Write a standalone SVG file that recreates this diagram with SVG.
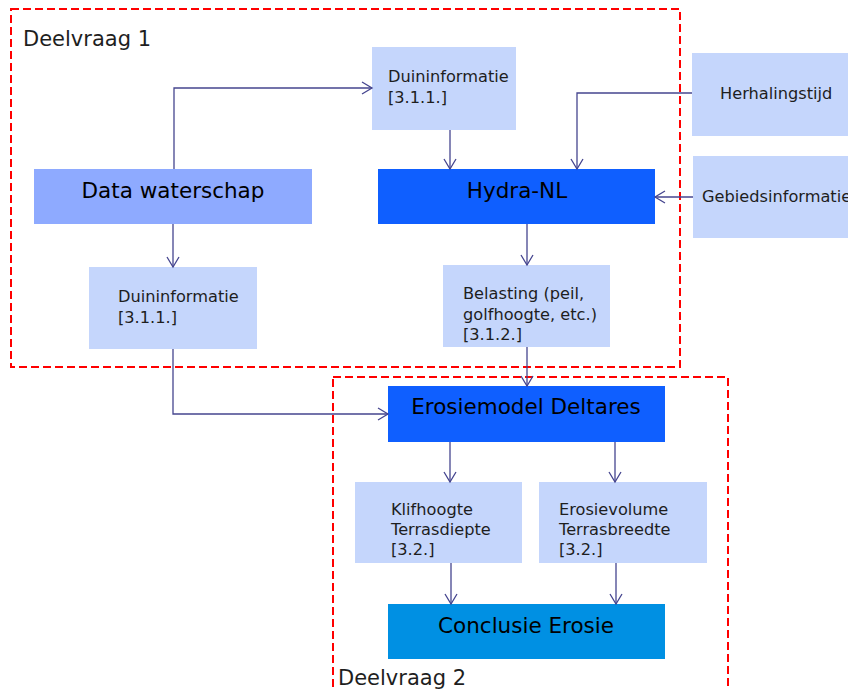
<svg xmlns="http://www.w3.org/2000/svg" width="848" height="690" viewBox="0 0 848 690">
<defs>
<marker id="arr" markerUnits="userSpaceOnUse" markerWidth="14" markerHeight="14" refX="11" refY="7" orient="auto">
<path d="M1,1 L11,7 L1,13" fill="none" stroke="#45458f" stroke-width="1.3"/>
</marker>
<style>
.light{fill:#c5d6fc}
.sm{font-family:"DejaVu Sans",Verdana,sans-serif;font-size:16.2px;fill:#1e1e1e}
.lg{font-family:"DejaVu Sans",Verdana,sans-serif;font-size:21.5px;fill:#000;text-anchor:middle}
.zone{fill:none;stroke:#ff0000;stroke-width:2;stroke-dasharray:8 4}
.conn path{fill:none;stroke:#45458f;stroke-width:1.3;marker-end:url(#arr)}
</style>
</defs>
<rect width="848" height="690" fill="#fff"/>
<g id="zone1"><rect class="zone" x="11" y="9" width="669" height="358"/>
<text class="sm" x="23" y="46" style="font-size:21px">Deelvraag 1</text></g>
<g id="zone2"><rect class="zone" x="333" y="377" width="395" height="330"/>
<text class="sm" x="338" y="685" style="font-size:21px">Deelvraag 2</text></g>

<g id="duin1"><rect class="light" x="372" y="47" width="144" height="83"/>
<text class="sm" x="388" y="82">Duininformatie</text><text class="sm" x="388" y="103">[3.1.1.]</text></g>
<g id="herhaling"><rect class="light" x="692" y="53" width="160" height="83"/>
<text class="sm" x="720" y="99">Herhalingstijd</text></g>
<g id="gebied"><rect class="light" x="693" y="156" width="160" height="82"/>
<text class="sm" x="702" y="202">Gebiedsinformatie</text></g>
<g id="data"><rect x="34" y="169" width="278" height="55" fill="#8eaaff"/>
<text class="lg" x="173" y="198">Data waterschap</text></g>
<g id="hydra"><rect x="378" y="169" width="277" height="55" fill="#0f5fff"/>
<text class="lg" x="517" y="198">Hydra-NL</text></g>
<g id="duin2"><rect class="light" x="89" y="267" width="168" height="82"/>
<text class="sm" x="118" y="302">Duininformatie</text><text class="sm" x="118" y="323">[3.1.1.]</text></g>
<g id="belasting"><rect class="light" x="443" y="265" width="167" height="82"/>
<text class="sm" x="463" y="299">Belasting (peil,</text><text class="sm" x="463" y="320">golfhoogte, etc.)</text><text class="sm" x="463" y="340">[3.1.2.]</text></g>
<g id="erosiemodel"><rect x="388" y="386" width="277" height="56" fill="#0f5fff"/>
<text class="lg" x="526" y="414">Erosiemodel Deltares</text></g>
<g id="klif"><rect class="light" x="355" y="482" width="167" height="81"/>
<text class="sm" x="391" y="515">Klifhoogte</text><text class="sm" x="391" y="535">Terrasdiepte</text><text class="sm" x="391" y="555">[3.2.]</text></g>
<g id="erosievolume"><rect class="light" x="539" y="482" width="168" height="81"/>
<text class="sm" x="559" y="515">Erosievolume</text><text class="sm" x="559" y="535">Terrasbreedte</text><text class="sm" x="559" y="555">[3.2.]</text></g>
<g id="conclusie"><rect x="388" y="604" width="277" height="55" fill="#0090e3"/>
<text class="lg" x="526" y="633">Conclusie Erosie</text></g>

<g id="connectors" class="conn">
<path d="M174,169 V88 H372"/>
<path d="M450,130 V169"/>
<path d="M692,93 H577 V169"/>
<path d="M693,197 H655"/>
<path d="M173,224 V267"/>
<path d="M527,224 V265"/>
<path d="M527,347 V386"/>
<path d="M173,349 V414 H388"/>
<path d="M450,442 V482"/>
<path d="M615,442 V482"/>
<path d="M451,563 V604"/>
<path d="M616,563 V604"/>
</g>
</svg>
